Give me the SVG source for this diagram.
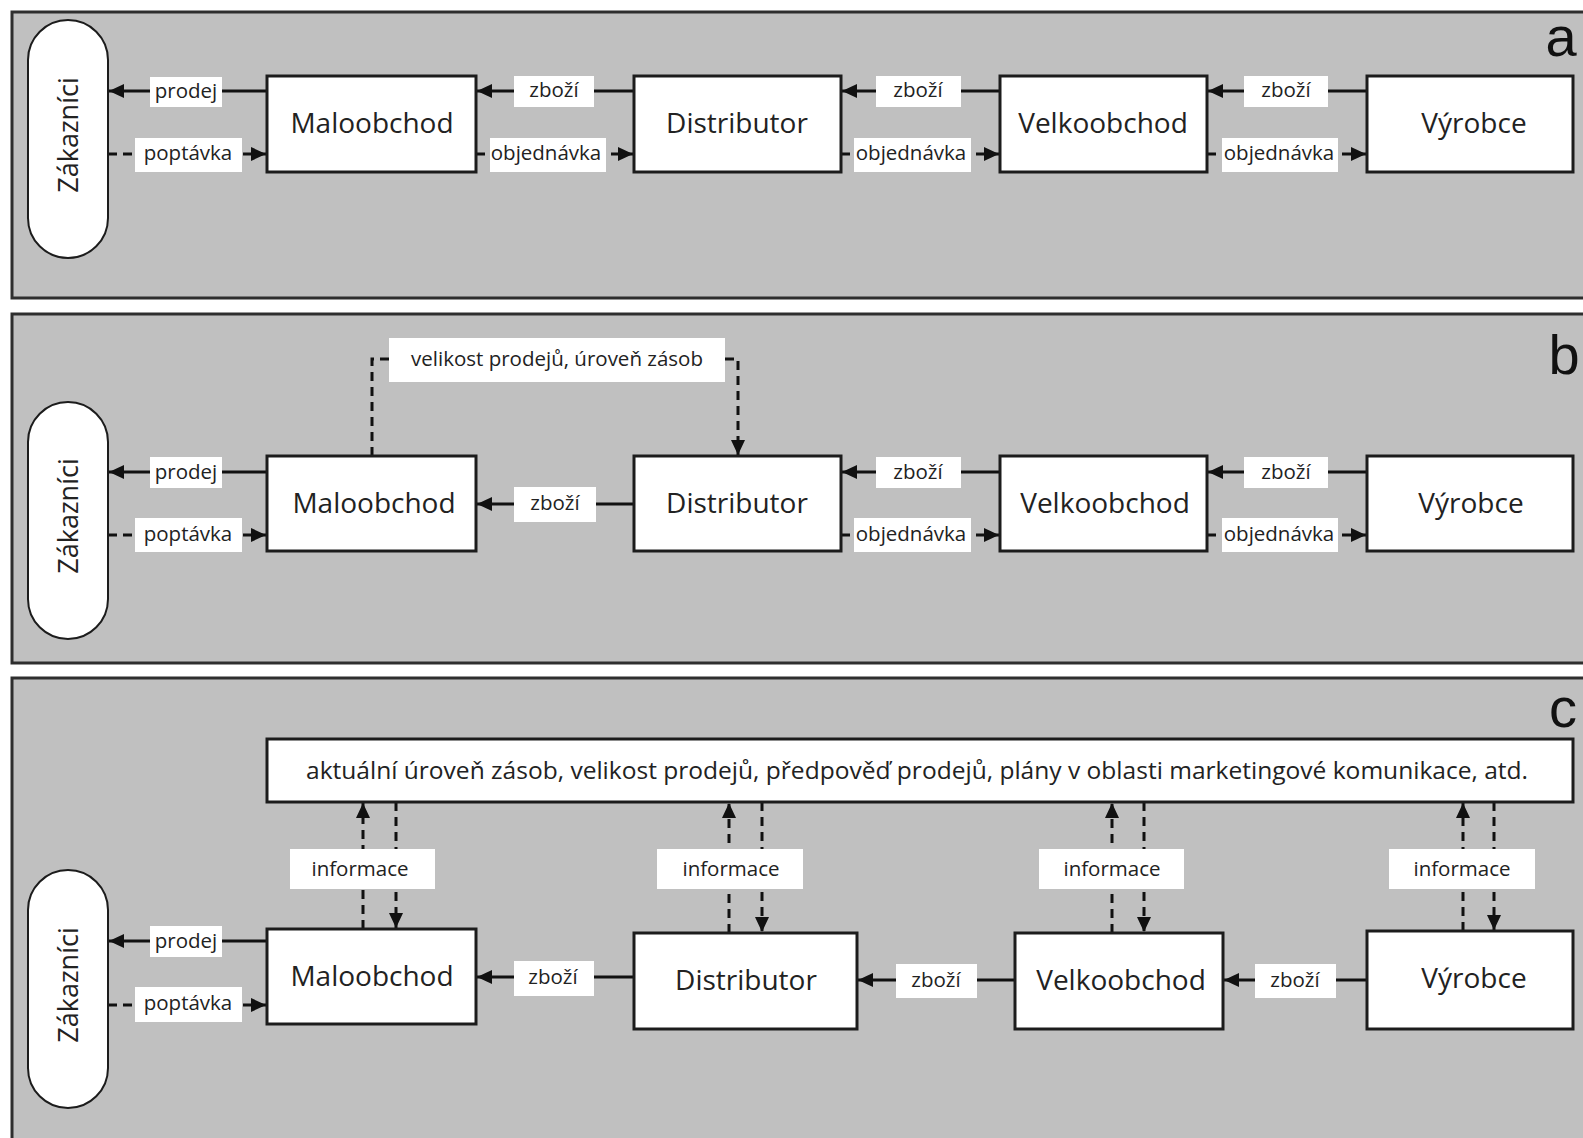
<svg xmlns="http://www.w3.org/2000/svg" width="1583" height="1138" viewBox="0 0 1583 1138">
  <style>
    .bg { fill: #ffffff; }
    .panel { fill: #c0c0c0; stroke: #2e2e2e; stroke-width: 3; }
    .box { fill: #ffffff; stroke: #1c1c1c; stroke-width: 3; }
    .pill { fill: #ffffff; stroke: #1c1c1c; stroke-width: 2; }
    .lbl { fill: #ffffff; }
    .ln { stroke: #111111; stroke-width: 3; fill: none; }
    .dash { stroke-dasharray: 9 6; }
    .node-t { font-family: "Open Sans", "Noto Sans", sans-serif; font-size: 28px; fill: #222222; text-anchor: middle; }
    .lbl-t { font-family: "Open Sans", "Noto Sans", sans-serif; font-size: 20.5px; fill: #222222; text-anchor: middle; }
    .info-t { font-family: "Open Sans", "Noto Sans", sans-serif; font-size: 24px; fill: #222222; text-anchor: middle; }
    .cust-t { font-family: "Open Sans", "Noto Sans", sans-serif; font-size: 27px; fill: #222222; text-anchor: middle; }
    .letter { font-family: "Liberation Sans", Arial, sans-serif; font-size: 56px; fill: #111111; text-anchor: middle; }
  </style>
  <defs>
    <marker id="arrow" markerUnits="userSpaceOnUse" markerWidth="16" markerHeight="16" refX="15" refY="8" orient="auto">
      <path d="M0,1 L15,8 L0,15 z" fill="#111111"/>
    </marker>
  </defs>

  <rect class="bg" x="0" y="0" width="1583" height="1138"/>

  <!-- panel frames -->
  <g id="panels">
    <rect class="panel" x="12" y="12" width="1600" height="286"/>
    <rect class="panel" x="12" y="314" width="1600" height="349"/>
    <rect class="panel" x="12" y="678" width="1600" height="480"/>
    <text class="letter" x="1561" y="56">a</text>
    <text class="letter" x="1564" y="374">b</text>
    <text class="letter" x="1563" y="727">c</text>
  </g>

  <!-- ===== panel a ===== -->
  <g id="a-connectors">
    <line class="ln" x1="267" y1="91" x2="109" y2="91" marker-end="url(#arrow)"/>
    <line class="ln dash" x1="108" y1="154" x2="266" y2="154" marker-end="url(#arrow)"/>
    <line class="ln" x1="634" y1="91" x2="477" y2="91" marker-end="url(#arrow)"/>
    <line class="ln dash" x1="476" y1="154" x2="633" y2="154" marker-end="url(#arrow)"/>
    <line class="ln" x1="1000" y1="91" x2="842" y2="91" marker-end="url(#arrow)"/>
    <line class="ln dash" x1="841" y1="154" x2="999" y2="154" marker-end="url(#arrow)"/>
    <line class="ln" x1="1367" y1="91" x2="1208" y2="91" marker-end="url(#arrow)"/>
    <line class="ln dash" x1="1207" y1="154" x2="1366" y2="154" marker-end="url(#arrow)"/>
    <rect class="lbl" x="150" y="77" width="72" height="30"/>
    <text class="lbl-t" x="186" y="98">prodej</text>
    <rect class="lbl" x="135" y="138" width="107" height="34"/>
    <text class="lbl-t" x="188" y="160">poptávka</text>
    <rect class="lbl" x="514" y="76" width="80" height="31"/>
    <text class="lbl-t" x="554" y="97">zboží</text>
    <rect class="lbl" x="490" y="138" width="116" height="34"/>
    <text class="lbl-t" x="546" y="160">objednávka</text>
    <rect class="lbl" x="876" y="76" width="85" height="31"/>
    <text class="lbl-t" x="918" y="97">zboží</text>
    <rect class="lbl" x="854" y="138" width="117" height="34"/>
    <text class="lbl-t" x="911" y="160">objednávka</text>
    <rect class="lbl" x="1244" y="76" width="84" height="31"/>
    <text class="lbl-t" x="1286" y="97">zboží</text>
    <rect class="lbl" x="1222" y="138" width="116" height="34"/>
    <text class="lbl-t" x="1279" y="160">objednávka</text>
  </g>
  <g id="a-customers">
    <rect class="pill" x="28" y="20" width="80" height="238" rx="40" ry="40"/>
    <text class="cust-t" transform="translate(78 135) rotate(-90)">Zákazníci</text>
  </g>
  <g id="a-retail">
    <rect class="box" x="267" y="76" width="209" height="96"/>
    <text class="node-t" x="372" y="133">Maloobchod</text>
  </g>
  <g id="a-distributor">
    <rect class="box" x="634" y="76" width="207" height="96"/>
    <text class="node-t" x="737" y="133">Distributor</text>
  </g>
  <g id="a-wholesale">
    <rect class="box" x="1000" y="76" width="207" height="96"/>
    <text class="node-t" x="1103" y="133">Velkoobchod</text>
  </g>
  <g id="a-producer">
    <rect class="box" x="1367" y="76" width="206" height="96"/>
    <text class="node-t" x="1474" y="133">Výrobce</text>
  </g>

  <!-- ===== panel b ===== -->
  <g id="b-connectors">
    <line class="ln" x1="267" y1="472" x2="109" y2="472" marker-end="url(#arrow)"/>
    <line class="ln dash" x1="108" y1="535" x2="266" y2="535" marker-end="url(#arrow)"/>
    <line class="ln" x1="634" y1="504" x2="477" y2="504" marker-end="url(#arrow)"/>
    <line class="ln" x1="1000" y1="472" x2="842" y2="472" marker-end="url(#arrow)"/>
    <line class="ln dash" x1="841" y1="535" x2="999" y2="535" marker-end="url(#arrow)"/>
    <line class="ln" x1="1367" y1="472" x2="1208" y2="472" marker-end="url(#arrow)"/>
    <line class="ln dash" x1="1207" y1="535" x2="1366" y2="535" marker-end="url(#arrow)"/>
    <polyline class="ln dash" points="372,456 372,359 738,359 738,455" marker-end="url(#arrow)"/>
    <rect class="lbl" x="150" y="457" width="72" height="31"/>
    <text class="lbl-t" x="186" y="479">prodej</text>
    <rect class="lbl" x="135" y="518" width="107" height="34"/>
    <text class="lbl-t" x="188" y="541">poptávka</text>
    <rect class="lbl" x="514" y="487" width="82" height="35"/>
    <text class="lbl-t" x="555" y="510">zboží</text>
    <rect class="lbl" x="876" y="457" width="85" height="31"/>
    <text class="lbl-t" x="918" y="479">zboží</text>
    <rect class="lbl" x="854" y="518" width="117" height="34"/>
    <text class="lbl-t" x="911" y="541">objednávka</text>
    <rect class="lbl" x="1244" y="457" width="84" height="31"/>
    <text class="lbl-t" x="1286" y="479">zboží</text>
    <rect class="lbl" x="1222" y="518" width="116" height="34"/>
    <text class="lbl-t" x="1279" y="541">objednávka</text>
    <rect class="lbl" x="389" y="338" width="336" height="44"/>
    <text class="lbl-t" x="557" y="366">velikost prodejů, úroveň zásob</text>
  </g>
  <g id="b-customers">
    <rect class="pill" x="28" y="402" width="80" height="237" rx="40" ry="40"/>
    <text class="cust-t" transform="translate(78 516) rotate(-90)">Zákazníci</text>
  </g>
  <g id="b-retail">
    <rect class="box" x="267" y="456" width="209" height="95"/>
    <text class="node-t" x="374" y="513">Maloobchod</text>
  </g>
  <g id="b-distributor">
    <rect class="box" x="634" y="456" width="207" height="95"/>
    <text class="node-t" x="737" y="513">Distributor</text>
  </g>
  <g id="b-wholesale">
    <rect class="box" x="1000" y="456" width="207" height="95"/>
    <text class="node-t" x="1105" y="513">Velkoobchod</text>
  </g>
  <g id="b-producer">
    <rect class="box" x="1367" y="456" width="206" height="95"/>
    <text class="node-t" x="1471" y="513">Výrobce</text>
  </g>

  <!-- ===== panel c ===== -->
  <g id="c-connectors">
    <line class="ln" x1="267" y1="941" x2="109" y2="941" marker-end="url(#arrow)"/>
    <line class="ln dash" x1="108" y1="1005" x2="266" y2="1005" marker-end="url(#arrow)"/>
    <line class="ln" x1="634" y1="977" x2="477" y2="977" marker-end="url(#arrow)"/>
    <line class="ln" x1="1015" y1="980" x2="858" y2="980" marker-end="url(#arrow)"/>
    <line class="ln" x1="1367" y1="980" x2="1224" y2="980" marker-end="url(#arrow)"/>
    <!-- information exchange with the shared store -->
    <line class="ln dash" x1="363" y1="929" x2="363" y2="803" marker-end="url(#arrow)"/>
    <line class="ln dash" x1="396" y1="802" x2="396" y2="928" marker-end="url(#arrow)"/>
    <line class="ln dash" x1="729" y1="933" x2="729" y2="803" marker-end="url(#arrow)"/>
    <line class="ln dash" x1="762" y1="802" x2="762" y2="932" marker-end="url(#arrow)"/>
    <line class="ln dash" x1="1112" y1="933" x2="1112" y2="803" marker-end="url(#arrow)"/>
    <line class="ln dash" x1="1144" y1="802" x2="1144" y2="932" marker-end="url(#arrow)"/>
    <line class="ln dash" x1="1463" y1="931" x2="1463" y2="803" marker-end="url(#arrow)"/>
    <line class="ln dash" x1="1494" y1="802" x2="1494" y2="930" marker-end="url(#arrow)"/>
    <rect class="lbl" x="150" y="926" width="72" height="31"/>
    <text class="lbl-t" x="186" y="948">prodej</text>
    <rect class="lbl" x="135" y="987" width="107" height="35"/>
    <text class="lbl-t" x="188" y="1010">poptávka</text>
    <rect class="lbl" x="514" y="961" width="80" height="35"/>
    <text class="lbl-t" x="553" y="984">zboží</text>
    <rect class="lbl" x="896" y="964" width="81" height="34"/>
    <text class="lbl-t" x="936" y="987">zboží</text>
    <rect class="lbl" x="1255" y="964" width="81" height="34"/>
    <text class="lbl-t" x="1295" y="987">zboží</text>
    <rect class="lbl" x="290" y="849" width="145" height="40"/>
    <text class="lbl-t" x="360" y="876">informace</text>
    <rect class="lbl" x="657" y="849" width="146" height="40"/>
    <text class="lbl-t" x="731" y="876">informace</text>
    <rect class="lbl" x="1039" y="849" width="145" height="40"/>
    <text class="lbl-t" x="1112" y="876">informace</text>
    <rect class="lbl" x="1389" y="849" width="146" height="40"/>
    <text class="lbl-t" x="1462" y="876">informace</text>
  </g>
  <g id="c-shared-info">
    <rect class="box" x="267" y="739" width="1306" height="63"/>
    <text class="info-t" x="917" y="779" textLength="1222" lengthAdjust="spacingAndGlyphs">aktuální úroveň zásob, velikost prodejů, předpověď prodejů, plány v oblasti marketingové komunikace, atd.</text>
  </g>
  <g id="c-customers">
    <rect class="pill" x="28" y="870" width="80" height="238" rx="40" ry="40"/>
    <text class="cust-t" transform="translate(78 985) rotate(-90)">Zákazníci</text>
  </g>
  <g id="c-retail">
    <rect class="box" x="267" y="929" width="209" height="95"/>
    <text class="node-t" x="372" y="986">Maloobchod</text>
  </g>
  <g id="c-distributor">
    <rect class="box" x="634" y="933" width="223" height="96"/>
    <text class="node-t" x="746" y="990">Distributor</text>
  </g>
  <g id="c-wholesale">
    <rect class="box" x="1015" y="933" width="208" height="96"/>
    <text class="node-t" x="1121" y="990">Velkoobchod</text>
  </g>
  <g id="c-producer">
    <rect class="box" x="1367" y="931" width="206" height="98"/>
    <text class="node-t" x="1474" y="988">Výrobce</text>
  </g>
</svg>
